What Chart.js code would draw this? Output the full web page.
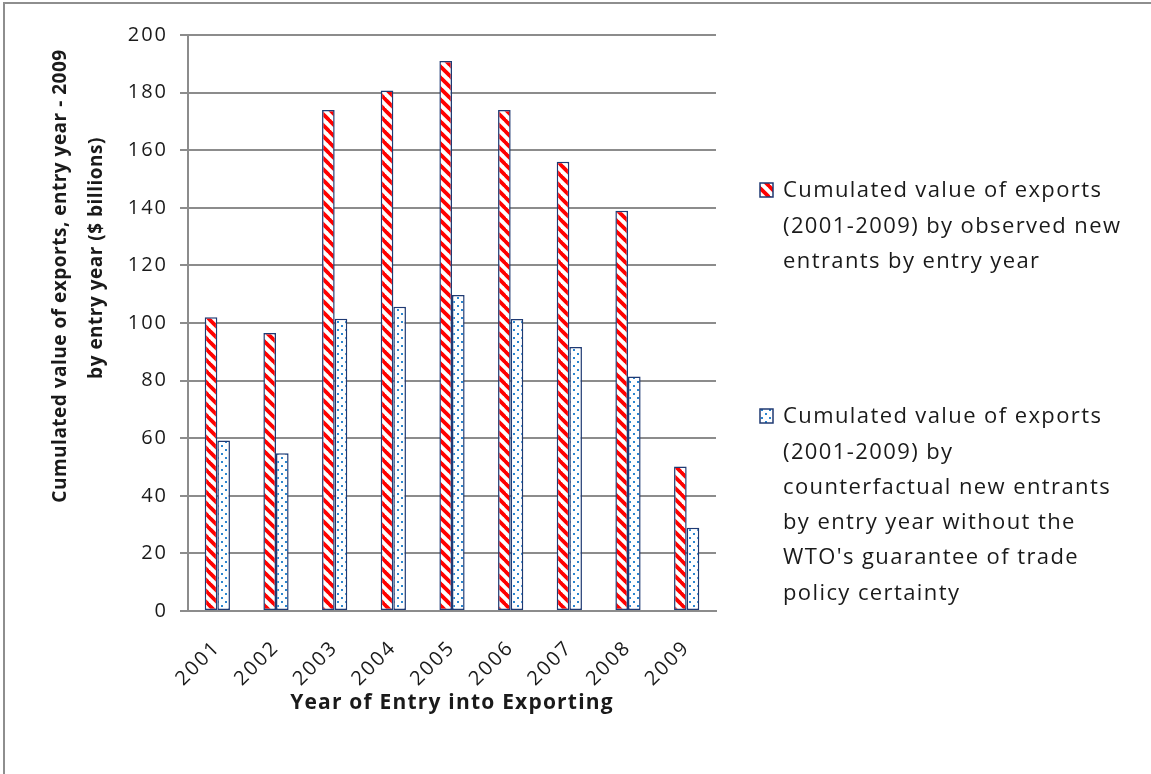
<!DOCTYPE html>
<html>
<head>
<meta charset="utf-8">
<script src="https://cdn.jsdelivr.net/npm/chart.js@4"></script>
<style>
  html, body { margin:0; padding:0; background:#fff; }
  #wrap { position:relative; width:1151px; height:774px; overflow:hidden; }
  #frame { position:absolute; left:3px; top:2px; right:-4px; bottom:-4px; border-left:2px solid #8e8e8e; border-top:2px solid #8e8e8e; }
  #chart { position:absolute; left:0; top:0; }
</style>
</head>
<body>
<div id="wrap"><div id="frame"></div><canvas id="chart" width="1151" height="774"></canvas></div>
<script>
// entry years and cumulated exports ($ billions)
const YEARS = ['2001', '2002', '2003', '2004', '2005', '2006', '2007', '2008', '2009'];
const OBSERVED = [102, 96.5, 174, 180.7, 191, 174, 156, 139, 50.2];
const COUNTERFACTUAL = [59.2, 54.8, 101.5, 105.6, 109.7, 101.4, 91.7, 81.4, 28.9];

const Y_MIN = 0, Y_MAX = 200, Y_STEP = 20;

const LEGEND_OBSERVED = ['Cumulated value of exports', '(2001-2009) by observed new', 'entrants by entry year'];
const LEGEND_COUNTER = ['Cumulated value of exports', '(2001-2009) by', 'counterfactual new entrants',
  'by entry year without the', "WTO's guarantee of trade", 'policy certainty'];
const Y_TITLE = ['Cumulated value of exports, entry year - 2009', 'by entry year ($ billions)'];
const X_TITLE = 'Year of Entry into Exporting';

const FONT = '"Open Sans", Lato, sans-serif';
const TEXT = '#1a1a1a';
const EDGE = '#1f3a73';
const GRID = '#8c8c8c';

function stripes() {
  const s = 11, c = document.createElement('canvas');
  c.width = s; c.height = s;
  const g = c.getContext('2d');
  g.fillStyle = '#fff'; g.fillRect(0, 0, s, s);
  g.strokeStyle = '#ff0000'; g.lineWidth = 3.8;
  for (let k = -1; k <= 1; k++) {
    g.beginPath(); g.moveTo(k * s - 1, -1); g.lineTo(k * s + s + 1, s + 1); g.stroke();
  }
  return g.createPattern(c, 'repeat');
}

function dots() {
  const s = 8, c = document.createElement('canvas');
  c.width = s; c.height = s;
  const g = c.getContext('2d');
  g.fillStyle = '#fff'; g.fillRect(0, 0, s, s);
  g.fillStyle = '#2b86d0';
  g.fillRect(1, 1, 2, 2);
  g.fillRect(5, 5, 2, 2);
  return g.createPattern(c, 'repeat');
}

const STRIPE = stripes();
const DOTS = dots();

// axis titles and the wrapped legend on the right
const decor = {
  id: 'decor',
  beforeDraw(chart) { chart.ctx.letterSpacing = '2px'; },
  afterDraw(chart) {
    const ctx = chart.ctx;
    ctx.save();
    ctx.fillStyle = TEXT;
    ctx.textAlign = 'center';
    ctx.textBaseline = 'middle';

    ctx.font = 'bold 19px ' + FONT;
    ctx.letterSpacing = '0.5px';
    const yt = [[61, 276], [97, 258]];
    Y_TITLE.forEach((t, i) => {
      ctx.save();
      ctx.translate(yt[i][0], yt[i][1]);
      ctx.rotate(-Math.PI / 2);
      ctx.fillText(t, 0, 0);
      ctx.restore();
    });
    const a = chart.chartArea;
    ctx.font = 'bold 21px ' + FONT;
    ctx.letterSpacing = '1.2px';
    ctx.fillText(X_TITLE, (a.left + a.right) / 2, 703);

    ctx.textAlign = 'left';
    ctx.font = '22px ' + FONT;
    ctx.letterSpacing = '1.4px';
    const items = [
      { lines: LEGEND_OBSERVED, fill: STRIPE, y: 191 },
      { lines: LEGEND_COUNTER, fill: DOTS, y: 417 }
    ];
    items.forEach(it => {
      ctx.fillStyle = it.fill;
      ctx.fillRect(760, it.y - 8, 13, 14);
      ctx.strokeStyle = EDGE; ctx.lineWidth = 1.5;
      ctx.strokeRect(760, it.y - 8, 13, 14);
      ctx.fillStyle = TEXT;
      it.lines.forEach((l, i) => ctx.fillText(l, 783, it.y + i * 35.3));
    });
    ctx.restore();
  }
};

const tickFont = { family: FONT, size: 20 };

new Chart(document.getElementById('chart'), {
  type: 'bar',
  data: {
    labels: YEARS,
    datasets: [
      { label: LEGEND_OBSERVED.join(' '), data: OBSERVED, backgroundColor: STRIPE,
        borderColor: EDGE, borderWidth: 1.5, borderSkipped: false,
        categoryPercentage: 0.43, barPercentage: 1 },
      { label: LEGEND_COUNTER.join(' '), data: COUNTERFACTUAL, backgroundColor: DOTS,
        borderColor: EDGE, borderWidth: 1.5, borderSkipped: false,
        categoryPercentage: 0.43, barPercentage: 1 }
    ]
  },
  options: {
    responsive: false,
    animation: false,
    layout: { padding: { left: 0, top: 35, right: 435, bottom: 0 } },
    plugins: { legend: { display: false }, tooltip: { enabled: false } },
    scales: {
      x: {
        grid: { display: false },
        border: { color: GRID, width: 2 },
        ticks: { minRotation: 45, maxRotation: 45, font: tickFont, color: TEXT, padding: 17 },
        afterFit(s) { s.height = 163; }
      },
      y: {
        min: Y_MIN, max: Y_MAX,
        ticks: { stepSize: Y_STEP, font: tickFont, color: TEXT, padding: 12 },
        grid: { color: GRID, lineWidth: 2, tickLength: 8 },
        border: { color: GRID, width: 2 },
        afterFit(s) { s.width = 188; }
      }
    }
  },
  plugins: [decor]
});
</script>
</body>
</html>
